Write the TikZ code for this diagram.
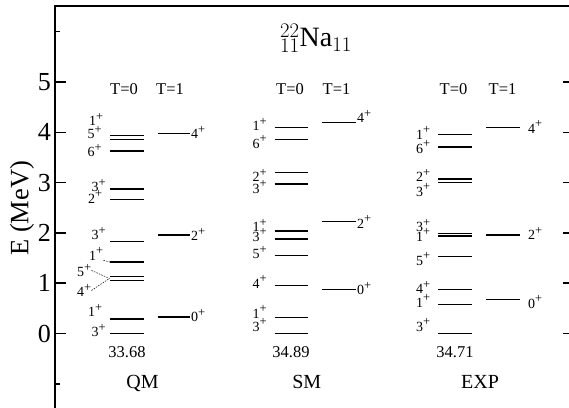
\documentclass[tikz,border=0pt]{standalone}
\usepackage{fontspec}
\setmainfont{Liberation Serif}
\newcommand{\jp}[1]{#1\raisebox{5.5pt}{\fontsize{12.5}{12.5}\selectfont+}}

\begin{document}
\begin{tikzpicture}[x=1pt, y=50.3pt,
  frame/.style={line width=1.5pt},
  lvl/.style={line width=1.3pt},
  guide/.style={line width=0.5pt, dash pattern=on 1.5pt off 1.2pt},
  spin/.style={anchor=base west, inner sep=0pt, font=\fontsize{14}{14}\selectfont},
  head/.style={anchor=base, inner sep=0pt, font=\fontsize{16.5}{16.5}\selectfont},
  model/.style={anchor=base, inner sep=0pt, font=\fontsize{20}{20}\selectfont}]
  \useasboundingbox (0,-1.481) rectangle (569,6.630);
  % frame and ticks
  \draw[frame, line join=miter] (55,-1.481) -- (55,6.511) -- (569,6.511);
  \foreach \e in {0,...,5}{
    \draw[frame] (55,\e) -- ++(11,0);
    \draw[frame] (563,\e) -- (569,\e);
    \node[anchor=east, inner sep=0pt, font=\fontsize{26}{26}\selectfont] (tk\e) at (51,\e) {\e};
  }
  \foreach \e in {-1,6} \draw[frame] (55,\e) -- ++(5,0);
  \node[rotate=90, inner sep=0pt, font=\fontsize{26.5}{26.5}\selectfont] (elabel) at (22,2.49) {E (MeV)};
  \node[anchor=base, inner sep=0pt, font=\fontsize{28}{28}\selectfont] (title) at (316,5.70) {${}^{22}_{11}\mathrm{Na}_{11}$};

  % QM
  \foreach \e/\j/\lx/\lb [count=\i] in {0/3/91.5/-0.06, 0.29/1/88/0.33, 1.06/4/77/0.73, 1.13/5/77/1.13,
      1.42/1/89/1.46, 1.83/3/91.5/1.86, 2.67/2/88/2.59, 2.87/3/91.5/2.82, 3.63/6/87.5/3.51,
      3.85/5/87.5/3.87, 3.94/1/89/4.13}{
    \draw[lvl] (110,\e) coordinate (ql\i) -- ++(33.5,0);
    \node[spin] (q\i) at (\lx,\lb) {\jp{\j}};
  }
  \coordinate (qpair) at (109.5,1.095);
  \draw[guide] (q5.south east) -- (ql5);
  \draw[guide] (q4.east) -- (qpair);
  \draw[guide] (q3.east) -- (qpair);
  \foreach \e/\j/\lb [count=\i] in {0.33/0/0.23, 1.96/2/1.84, 3.97/4/3.87}{
    \draw[lvl] (157.5,\e) -- ++(32,0);
    \node[spin] (qt\i) at (191,\lb) {\jp{\j}};
  }
  \node[head] (qT0) at (124,4.75) {T=0};
  \node[head] (qT1) at (170,4.75) {T=1};
  \node[head] (qbe) at (127,-0.48) {33.68};
  \node[model] (qm) at (142.5,-1.09) {QM};

  % SM
  \foreach \e/\j/\lb [count=\i] in {0/3/0.04, 0.32/1/0.30, 0.96/4/0.90, 1.55/5/1.49, 1.88/3/1.83,
      2.04/1/2.02, 2.97/3/2.79, 3.20/2/3.02, 3.85/6/3.68, 4.10/1/4.03}{
    \draw[lvl] (274.5,\e) -- ++(33,0);
    \node[spin] (s\i) at (252.5,\lb) {\jp{\j}};
  }
  \foreach \e/\j/\lb [count=\i] in {0.88/0/0.77, 2.22/2/2.09, 4.20/4/4.19}{
    \draw[lvl] (321.5,\e) -- ++(34,0);
    \node[spin] (st\i) at (357,\lb) {\jp{\j}};
  }
  \node[head] (sT0) at (290,4.75) {T=0};
  \node[head] (sT1) at (336.5,4.75) {T=1};
  \node[head] (sbe) at (291,-0.48) {34.89};
  \node[model] (sm) at (306.7,-1.09) {SM};

  % EXP
  \foreach \e/\j/\lb [count=\i] in {0/3/0.04, 0.58/1/0.52, 0.88/4/0.79, 1.53/5/1.36, 1.94/1/1.83,
      1.99/3/2.02, 3.00/3/2.73, 3.07/2/3.02, 3.71/6/3.58, 3.96/1/3.86}{
    \draw[lvl] (438,\e) -- ++(34,0);
    \node[spin] (x\i) at (416,\lb) {\jp{\j}};
  }
  \foreach \e/\j/\lb [count=\i] in {0.67/0/0.50, 1.96/2/1.86, 4.10/4/3.98}{
    \draw[lvl] (486,\e) -- ++(33.5,0);
    \node[spin] (xt\i) at (528,\lb) {\jp{\j}};
  }
  \node[head] (xT0) at (453.5,4.75) {T=0};
  \node[head] (xT1) at (502.5,4.75) {T=1};
  \node[head] (xbe) at (455,-0.48) {34.71};
  \node[model] (xp) at (480,-1.09) {EXP};
\end{tikzpicture}
\end{document}
